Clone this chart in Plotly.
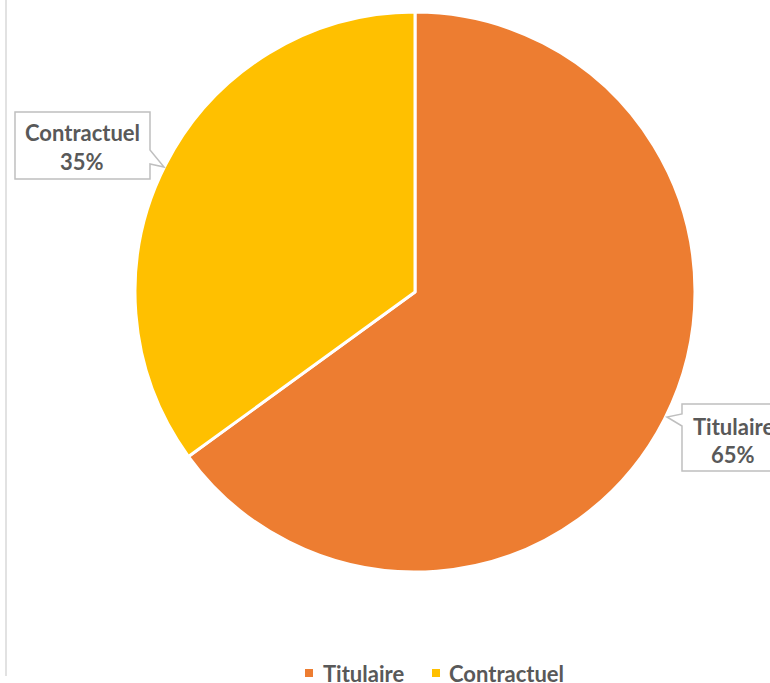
import plotly.graph_objects as go

labels = ["Titulaire", "Contractuel"]
values = [65, 35]
colors = ["#ED7D31", "#FFC000"]

W, H = 770, 683
TXT = "#595959"
FONT = "Lato"

def px(x, y):
    return x / W, 1 - y / H

R = 280
fig = go.Figure()
fig.add_trace(go.Pie(
    labels=labels, values=values, sort=False, direction="clockwise", rotation=0,
    marker=dict(colors=colors, line=dict(color="white", width=3)),
    textinfo="none", hoverinfo="label+percent",
    domain=dict(x=[(415 - R) / W, (415 + R) / W], y=[1 - (292 + R) / H, 1 - (292 - R) / H]),
))

def path(points):
    s = ""
    for i, (x, y) in enumerate(points):
        X, Y = px(x, y)
        s += ("M" if i == 0 else "L") + f"{X:.5f},{Y:.5f} "
    return s + "Z"

shapes = [
    dict(type="line", xref="paper", yref="paper", x0=6 / W, x1=6 / W, y0=1, y1=1 - 676 / H,
         line=dict(color="#D9D9D9", width=1.5)),
    dict(type="path", xref="paper", yref="paper",
         path=path([(15, 112), (150, 112), (150, 150), (164, 167), (150, 164), (150, 179), (15, 179)]),
         fillcolor="white", line=dict(color="#BFBFBF", width=1.5)),
    dict(type="path", xref="paper", yref="paper",
         path=path([(682, 404), (790, 404), (790, 471), (682, 471), (682, 426), (667, 417), (682, 414)]),
         fillcolor="white", line=dict(color="#BFBFBF", width=1.5)),
]

pct = [f"{round(v / sum(values) * 100)}%" for v in values]
annotations = []
for (cx, cy1, cy2), lab, p in [((733, 426, 454), labels[0], pct[0]), ((82, 132, 161), labels[1], pct[1])]:
    for cy, t in [(cy1, lab), (cy2, p)]:
        X, Y = px(cx, cy)
        annotations.append(dict(x=X, y=Y, xref="paper", yref="paper", text=t, showarrow=False,
                                xanchor="center", yanchor="middle",
                                font=dict(family=FONT, size=22, color=TXT, weight="bold")))

# legend (bottom, centred)
leg_y = 673
for (sx, tx), lab, col in zip([(305, 321), (432, 447)], labels, colors):
    x0, y0 = px(sx, leg_y - 4)
    x1, y1 = px(sx + 8, leg_y + 4)
    shapes.append(dict(type="rect", xref="paper", yref="paper", x0=x0, x1=x1, y0=y1, y1=y0,
                       fillcolor=col, line=dict(width=0)))
    X, Y = px(tx, leg_y)
    annotations.append(dict(x=X, y=Y, xref="paper", yref="paper", text=lab, showarrow=False,
                            xanchor="left", yanchor="middle",
                            font=dict(family=FONT, size=22, color=TXT, weight="bold")))

fig.update_layout(
    width=W, height=H, margin=dict(l=0, r=0, t=0, b=0),
    paper_bgcolor="white", plot_bgcolor="white",
    shapes=shapes, annotations=annotations,
    showlegend=False,
)
fig.write_html("out.html")
